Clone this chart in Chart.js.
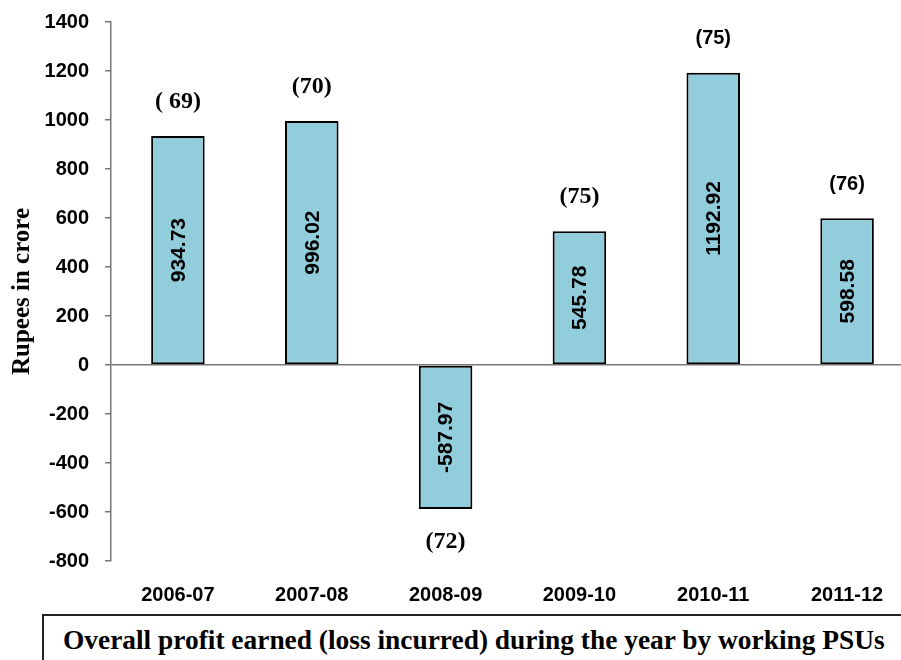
<!DOCTYPE html>
<html>
<head>
<meta charset="utf-8">
<script src="https://cdn.jsdelivr.net/npm/chart.js@4.4.0/dist/chart.umd.min.js"></script>
<style>
    html, body { margin: 0; padding: 0; background: #fff; overflow: hidden; width: 901px; height: 660px; }
    #wrap { position: absolute; left: 0; top: 0; width: 914px; height: 614px; }
    #caption {
        position: absolute; left: 42px; top: 614px; width: 900px; height: 60px;
        border: 2px solid #222; box-sizing: border-box;
        font-family: "Liberation Serif", "Times New Roman", serif; font-weight: bold; font-size: 27.4px;
        color: #000; padding: 9px 0 0 19px; white-space: nowrap;
    }
</style>
</head>
<body>
<div id="wrap"><canvas id="profitChart" width="914" height="614"></canvas></div>
<div id="caption">Overall profit earned (loss incurred) during the year by working PSUs</div>

<script>
/* ===================== DATA ===================== */
const years = ['2006-07', '2007-08', '2008-09', '2009-10', '2010-11', '2011-12'];
const profit = [934.73, 996.02, -587.97, 545.78, 1192.92, 598.58];
const psuCounts = ['( 69)', '(70)', '(72)', '(75)', '(75)', '(76)'];

const yMin = -800, yMax = 1400, yStep = 200;

/* ===================== LABEL PLUGIN ===================== */
const barLabels = {
    id: 'barLabels',
    afterDatasetsDraw(chart) {
        const ctx = chart.ctx;
        const meta = chart.getDatasetMeta(0);
        ctx.save();
        ctx.fillStyle = '#000';
        ctx.textAlign = 'center';
        ctx.textBaseline = 'middle';
        meta.data.forEach((bar, i) => {
            const v = profit[i];
            const mid = (bar.y + bar.base) / 2;

            // value written inside the bar, turned up
            ctx.save();
            ctx.translate(bar.x, mid);
            ctx.rotate(-Math.PI / 2);
            ctx.font = 'bold 21px "Liberation Sans", Arial, sans-serif';
            ctx.fillText(v.toFixed(2), 0, 1);
            ctx.restore();

            // number of PSUs above (or below) the bar
            ctx.font = i >= 4
                ? 'bold 20px "Liberation Sans", Arial, sans-serif'
                : 'bold 24px "Liberation Serif", "Times New Roman", serif';
            const y = v >= 0 ? bar.y - 34 : bar.y + 33;
            ctx.fillText(psuCounts[i], bar.x, y);
        });
        ctx.restore();
    }
};

/* ===================== CHART ===================== */
const ctx = document.getElementById('profitChart').getContext('2d');
new Chart(ctx, {
    type: 'bar',
    data: {
        labels: years,
        datasets: [{
            data: profit,
            backgroundColor: '#92cddc',
            borderColor: '#000',
            borderWidth: 2,
            borderSkipped: false,
            barPercentage: 0.4,
            categoryPercentage: 1
        }]
    },
    options: {
        responsive: false,
        animation: false,
        layout: { padding: { top: 22, left: 0, right: 0, bottom: 0 } },
        plugins: {
            legend: { display: false },
            tooltip: { enabled: false }
        },
        scales: {
            x: {
                grid: { display: false },
                border: { display: false },
                ticks: {
                    color: '#000',
                    padding: 14,
                    font: { family: '"Liberation Sans", Arial, sans-serif', size: 20, weight: 'bold' }
                },
                afterFit(scale) { scale.height = 53; }
            },
            y: {
                min: yMin,
                max: yMax,
                ticks: {
                    stepSize: yStep,
                    color: '#000',
                    padding: 16,
                    callback: v => String(v),
                    font: { family: '"Liberation Sans", Arial, sans-serif', size: 20, weight: 'bold' }
                },
                grid: {
                    color: c => c.tick && c.tick.value === 0 ? '#777' : 'rgba(0,0,0,0)',
                    tickColor: '#777',
                    tickLength: 6,
                    lineWidth: 1.5
                },
                border: { color: '#777', width: 1.5 },
                title: {
                    display: true,
                    text: 'Rupees in crore',
                    color: '#000',
                    padding: { top: 8, bottom: 0 },
                    font: { family: '"Liberation Serif", "Times New Roman", serif', size: 25, weight: 'bold' }
                },
                afterFit(scale) {
                    scale.width = 111;
                    scale.paddingTop = 0;
                    scale.paddingBottom = 0;
                }
            }
        }
    },
    plugins: [barLabels]
});
</script>
</body>
</html>
